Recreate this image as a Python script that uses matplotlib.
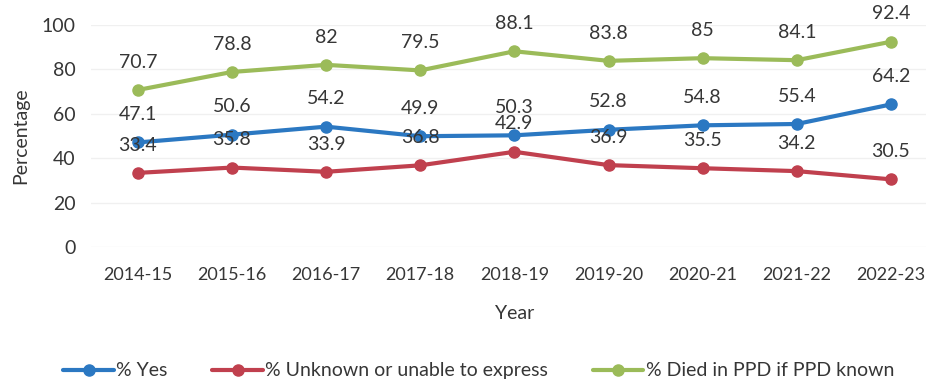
import matplotlib
matplotlib.use("Agg")
import matplotlib.pyplot as plt

years = ["2014-15", "2015-16", "2016-17", "2017-18", "2018-19",
         "2019-20", "2020-21", "2021-22", "2022-23"]
yes = [47.1, 50.6, 54.2, 49.9, 50.3, 52.8, 54.8, 55.4, 64.2]
unknown = [33.4, 35.8, 33.9, 36.8, 42.9, 36.9, 35.5, 34.2, 30.5]
died_ppd = [70.7, 78.8, 82, 79.5, 88.1, 83.8, 85, 84.1, 92.4]
yticks = [0, 20, 40, 60, 80, 100]

series = [
    ("% Yes", yes, "#2b78c2"),
    ("% Unknown or unable to express", unknown, "#c0404e"),
    ("% Died in PPD if PPD known", died_ppd, "#9bbb59"),
]

plt.rcParams['font.family'] = ['Lato', 'DejaVu Sans']
text_color = "#363636"
fs = 14

fig = plt.figure(figsize=(9.26, 3.82), dpi=100)
ax = fig.add_axes([0.098, 0.353, 0.915, 0.582])

x = list(range(len(years)))
for label, vals, color in series:
    ax.plot(x, vals, color=color, lw=3, marker='o', markersize=8,
            label=label, solid_capstyle='round')
    for xi, v in zip(x, vals):
        ax.annotate(f"{v:g}", (xi, v), xytext=(0, 20), textcoords='offset points',
                    ha='center', va='center', fontsize=fs, color=text_color)

ax.set_xlim(-0.5, len(years) - 0.5)
ax.set_ylim(0, 100)
ax.set_yticks(yticks)
ax.set_xticks(x)
ax.set_xticklabels(years)
ax.tick_params(axis='y', length=0, labelsize=fs, labelcolor=text_color, pad=11)
ax.tick_params(axis='x', length=0, labelsize=13, labelcolor=text_color, pad=14)
ax.grid(axis='y', color='#f0f0f0', lw=1)
ax.set_axisbelow(True)
for s in ax.spines.values():
    s.set_visible(False)

ax.set_ylabel("Percentage", fontsize=fs, color=text_color, labelpad=9)
ax.set_xlabel("Year", fontsize=fs, color=text_color, labelpad=16)

fig.legend(loc='center', bbox_to_anchor=(0.517, 0.029), ncol=3, frameon=False,
           fontsize=fs, handlelength=2.6, handletextpad=0.12, columnspacing=2.3,
           labelcolor=text_color)

fig.savefig("out.png", dpi=100)
